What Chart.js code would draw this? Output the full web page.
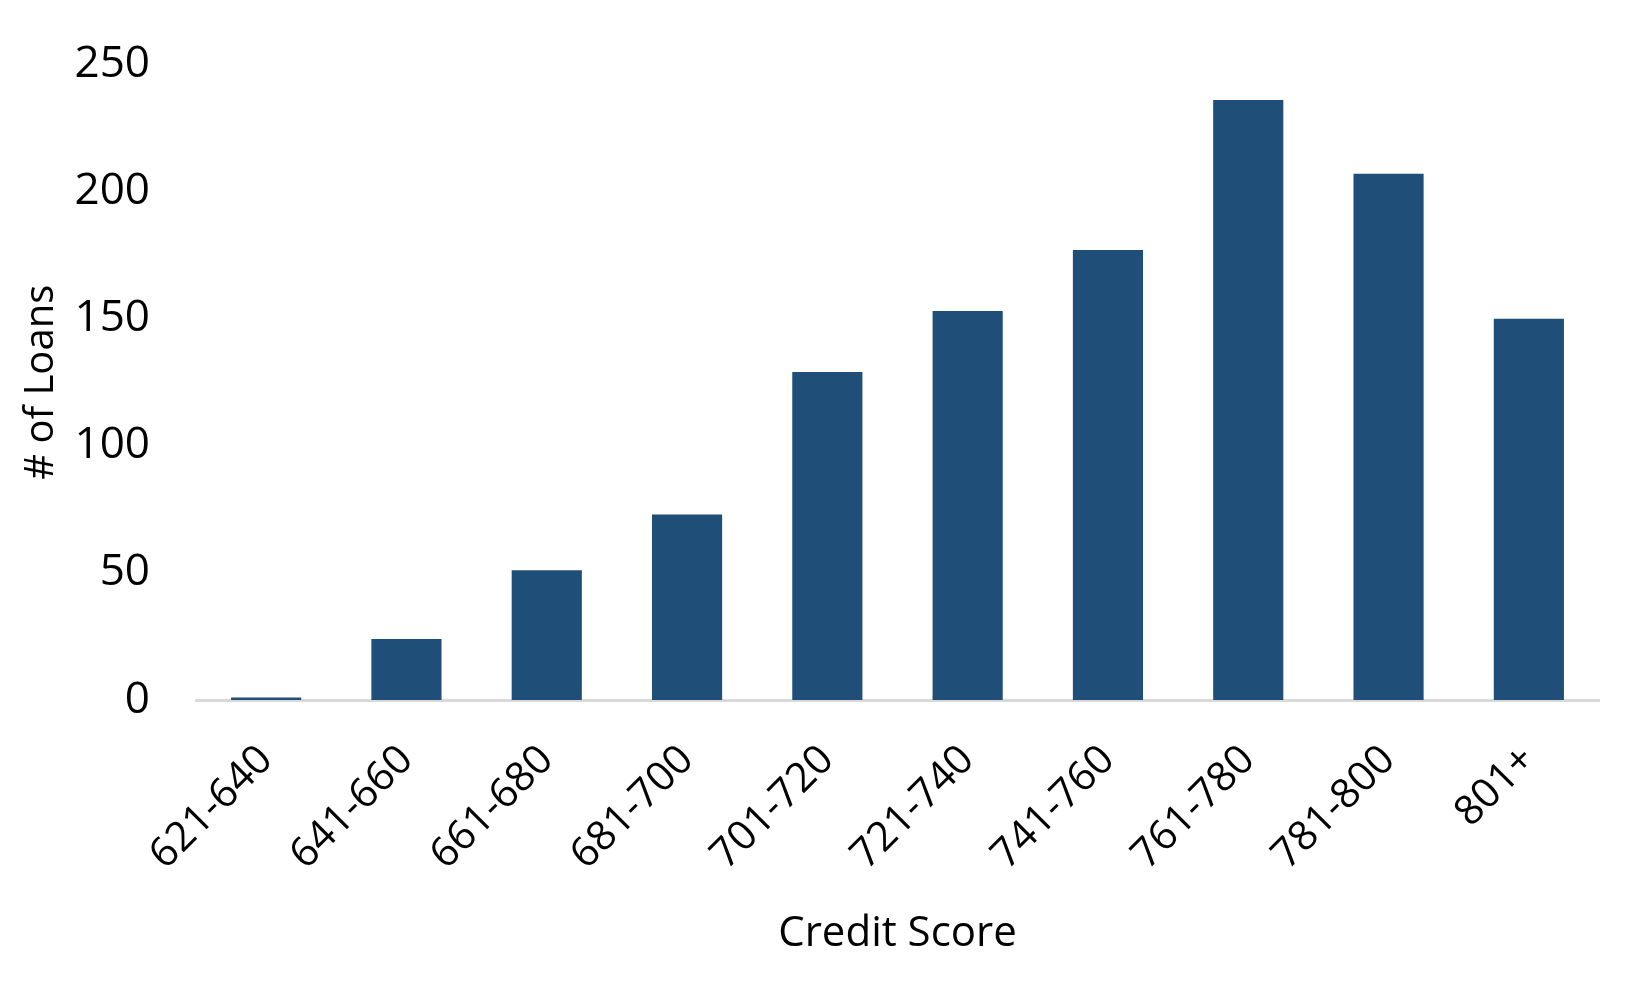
<!DOCTYPE html>
<html>
<head>
<meta charset="utf-8">
<script src="https://cdn.jsdelivr.net/npm/chart.js@4"></script>
<style>
  html, body { margin: 0; padding: 0; background: #ffffff; }
  #wrap { width: 1651px; height: 990px; }
</style>
</head>
<body>
<div id="wrap"><canvas id="c" width="1651" height="990"></canvas></div>
<script>
const categories = ["621-640", "641-660", "661-680", "681-700", "701-720", "721-740", "741-760", "761-780", "781-800", "801+"];
const loans = [1, 24, 51, 73, 129, 153, 177, 236, 207, 150];
const yTicks = [0, 50, 100, 150, 200, 250];
const xTitle = "Credit Score";
const yTitle = "# of Loans";

const FONT = "'Open Sans', 'Noto Sans', sans-serif";

new Chart(document.getElementById('c'), {
  type: 'bar',
  data: {
    labels: categories,
    datasets: [{
      data: loans,
      backgroundColor: '#1f4e79',
      borderWidth: 0,
      categoryPercentage: 1.0,
      barPercentage: 0.5
    }]
  },
  options: {
    responsive: false,
    animation: false,
    devicePixelRatio: 1,
    layout: { padding: { top: 45, right: 52, bottom: 0, left: 0 } },
    plugins: { legend: { display: false }, tooltip: { enabled: false } },
    scales: {
      x: {
        grid: { display: false },
        border: { display: true, color: '#d9d9d9', width: 3 },
        ticks: {
          color: '#000000',
          font: { family: FONT, size: 41 },
          autoSkip: false,
          minRotation: 45,
          maxRotation: 45,
          padding: 28
        },
        title: {
          display: true,
          text: xTitle,
          color: '#000000',
          font: { family: FONT, size: 42 },
          padding: { top: 0, bottom: 31 }
        },
        afterFit: (scale) => { scale.height = 290; }
      },
      y: {
        min: yTicks[0],
        max: yTicks[yTicks.length - 1],
        grid: { display: false },
        border: { display: false },
        afterBuildTicks: (scale) => { scale.ticks = yTicks.map(v => ({ value: v })); },
        ticks: {
          color: '#000000',
          font: { family: FONT, size: 44 },
          padding: 38
        },
        title: {
          display: true,
          text: yTitle,
          color: '#000000',
          font: { family: FONT, size: 40 },
          padding: { top: 18, bottom: 0 }
        },
        afterFit: (scale) => { scale.width = 196; }
      }
    }
  }
});
</script>
</body>
</html>
